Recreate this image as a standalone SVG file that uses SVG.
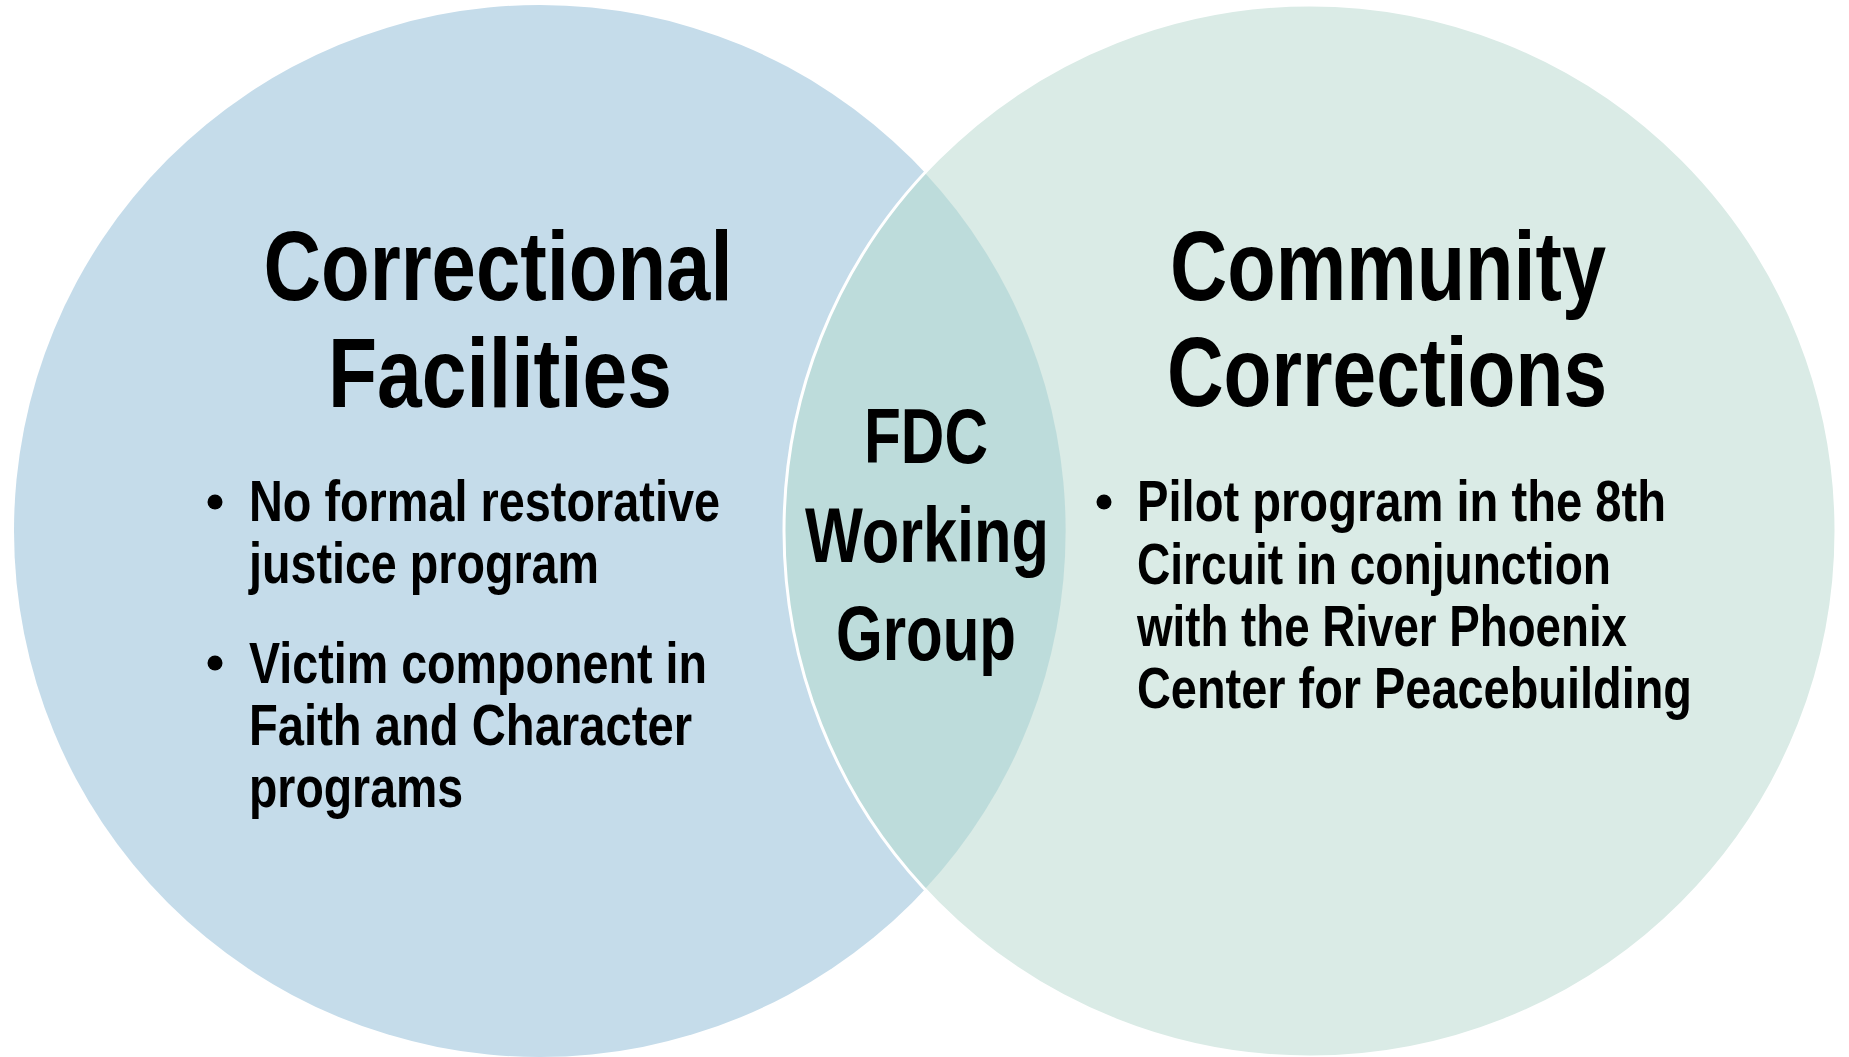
<svg xmlns="http://www.w3.org/2000/svg" width="1849" height="1057" viewBox="0 0 1849 1057">
<style>
text { font-family: "Liberation Sans Narrow", "Liberation Sans", "DejaVu Sans Condensed", sans-serif; font-weight: bold; fill: #000000; }
.h { font-size: 99px; text-anchor: middle; }
.c { font-size: 78px; text-anchor: middle; }
.b { font-size: 57px; }
.dot { fill: #000000; }
</style>
<rect x="0" y="0" width="1849" height="1057" fill="#ffffff"/>
<g id="correctional-facilities">
  <circle cx="540" cy="531" r="526" fill="#C5DCEA"/>
</g>
<g id="community-corrections">
  <circle cx="1310" cy="531" r="526" fill="#DAEBE6"/>
</g>
<g id="fdc-working-group">
  <path d="M925,173 A526,526 0 0,0 925,889 A526,526 0 0,0 925,173 Z" fill="#BDDCDB"/>
  <circle cx="1310" cy="531" r="526" fill="none" stroke="#ffffff" stroke-width="3"/>
  <text class="c" x="926" y="463" textLength="124" lengthAdjust="spacingAndGlyphs">FDC</text>
  <text class="c" x="927" y="562" textLength="244" lengthAdjust="spacingAndGlyphs">Working</text>
  <text class="c" x="926" y="660" textLength="180" lengthAdjust="spacingAndGlyphs">Group</text>
</g>
<g id="correctional-text">
  <text class="h" x="498" y="300" textLength="469" lengthAdjust="spacingAndGlyphs">Correctional</text>
  <text class="h" x="500" y="407" textLength="344" lengthAdjust="spacingAndGlyphs">Facilities</text>
  <circle class="dot" cx="215" cy="502" r="7.5"/>
  <text class="b" x="249" y="521" textLength="471" lengthAdjust="spacingAndGlyphs">No formal restorative</text>
  <text class="b" x="249" y="583" textLength="350" lengthAdjust="spacingAndGlyphs">justice program</text>
  <circle class="dot" cx="215" cy="663" r="7.5"/>
  <text class="b" x="249" y="683" textLength="458" lengthAdjust="spacingAndGlyphs">Victim component in</text>
  <text class="b" x="249" y="745" textLength="443" lengthAdjust="spacingAndGlyphs">Faith and Character</text>
  <text class="b" x="249" y="807" textLength="214" lengthAdjust="spacingAndGlyphs">programs</text>
</g>
<g id="community-text">
  <text class="h" x="1388" y="300" textLength="436" lengthAdjust="spacingAndGlyphs">Community</text>
  <text class="h" x="1387" y="406" textLength="440" lengthAdjust="spacingAndGlyphs">Corrections</text>
  <circle class="dot" cx="1104" cy="502" r="7.5"/>
  <text class="b" x="1137" y="521" textLength="529" lengthAdjust="spacingAndGlyphs">Pilot program in the 8th</text>
  <text class="b" x="1137" y="584" textLength="474" lengthAdjust="spacingAndGlyphs">Circuit in conjunction</text>
  <text class="b" x="1137" y="646" textLength="490" lengthAdjust="spacingAndGlyphs">with the River Phoenix</text>
  <text class="b" x="1137" y="708" textLength="555" lengthAdjust="spacingAndGlyphs">Center for Peacebuilding</text>
</g>
<g id="connectors"></g>
</svg>
